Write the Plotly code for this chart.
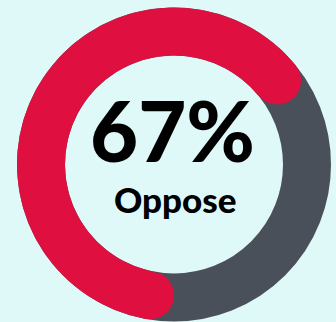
import numpy as np
import plotly.graph_objects as go

# Share of respondents and the headline labels
share_pct = 67
value_label = "67%"
category_label = "Oppose"

# Palette
bg_color = "#DFF8F8"
arc_color = "#DF0F40"
track_color = "#4A5059"

# Ring geometry (data units == pixels)
mid_r = 133.0
half_w = 24.0
start_deg = 180.0  # arc begins at the bottom and runs clockwise


def pt(r, deg):
    a = np.radians(deg)
    return r * np.sin(a), r * np.cos(a)


# Rounded-cap arc: the caps are part of the share's sweep
sweep = 360.0 * share_pct / 100.0
cap_deg = np.degrees(half_w / mid_r)
a0 = start_deg + cap_deg
a1 = start_deg + sweep - cap_deg

xs, ys = [], []
for d in np.linspace(a0, a1, 240):
    x, y = pt(mid_r + half_w, d)
    xs.append(x); ys.append(y)

# end cap
c1 = np.array(pt(mid_r, a1))
u1 = np.array([np.sin(np.radians(a1)), np.cos(np.radians(a1))])
t1 = np.array([np.cos(np.radians(a1)), -np.sin(np.radians(a1))])
for phi in np.linspace(0, np.pi, 60):
    p = c1 + half_w * (np.cos(phi) * u1 + np.sin(phi) * t1)
    xs.append(p[0]); ys.append(p[1])

for d in np.linspace(a1, a0, 240):
    x, y = pt(mid_r - half_w, d)
    xs.append(x); ys.append(y)

# start cap
c0 = np.array(pt(mid_r, a0))
u0 = np.array([np.sin(np.radians(a0)), np.cos(np.radians(a0))])
t0 = np.array([np.cos(np.radians(a0)), -np.sin(np.radians(a0))])
for phi in np.linspace(np.pi, 0, 60):
    p = c0 + half_w * (np.cos(phi) * u0 - np.sin(phi) * t0)
    xs.append(p[0]); ys.append(p[1])

fig = go.Figure()
fig.add_trace(go.Scatter(
    x=xs, y=ys, mode="lines", fill="toself",
    fillcolor=arc_color, line=dict(width=0, color=arc_color),
    hoverinfo="skip", showlegend=False,
))

# full background track
fig.add_shape(
    type="circle", xref="x", yref="y",
    x0=-mid_r, x1=mid_r, y0=-mid_r, y1=mid_r,
    line=dict(color=track_color, width=2 * half_w),
    fillcolor="rgba(0,0,0,0)", layer="below",
)

fig.add_annotation(
    x=-1.5, y=35, xref="x", yref="y", text=value_label,
    showarrow=False, xanchor="center", yanchor="middle",
    font=dict(family="Lato", size=83, color="#000000", weight=900),
)
fig.add_annotation(
    x=1, y=-34, xref="x", yref="y", text=category_label,
    showarrow=False, xanchor="center", yanchor="middle",
    font=dict(family="Lato", size=35, color="#000000", weight=900),
)

fig.update_xaxes(range=[-174, 162], visible=False, fixedrange=True)
fig.update_yaxes(range=[-157.5, 164.5], visible=False, fixedrange=True)
fig.update_layout(
    width=336, height=322, autosize=False,
    margin=dict(l=0, r=0, t=0, b=0),
    paper_bgcolor=bg_color, plot_bgcolor=bg_color,
)

fig.write_html("out.html", config={"displayModeBar": False})
